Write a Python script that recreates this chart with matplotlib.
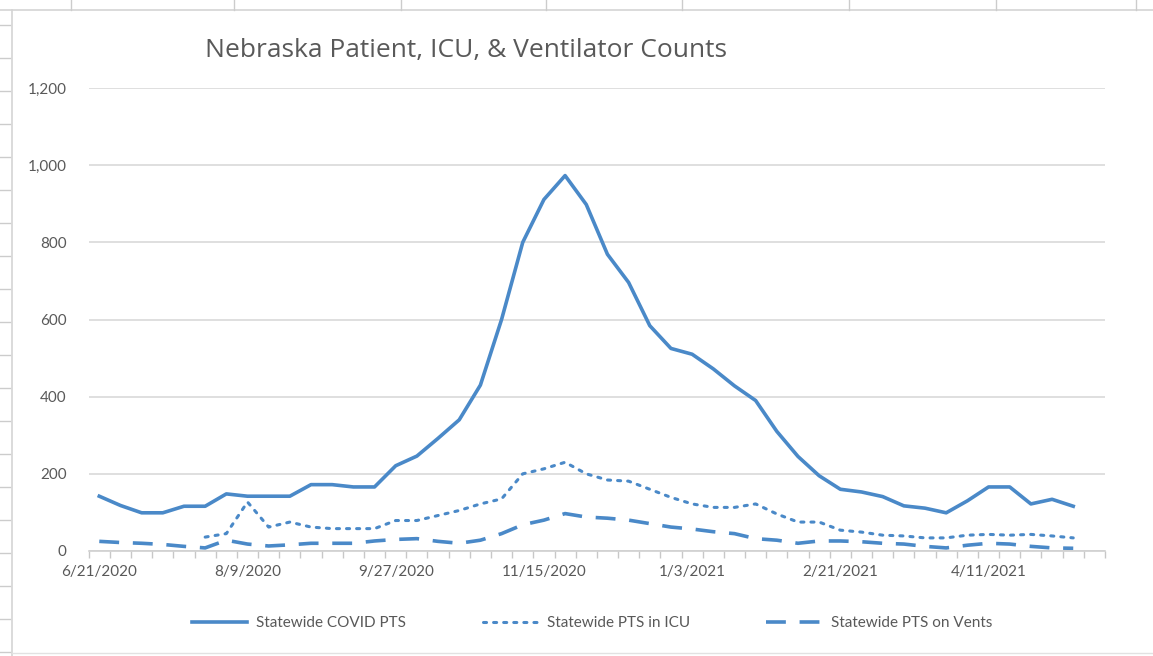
import numpy as np
import matplotlib
matplotlib.use("Agg")
import matplotlib.pyplot as plt
from matplotlib.ticker import FuncFormatter, FixedLocator

plt.rcParams['font.family'] = ['Lato', 'DejaVu Sans']

# weekly categories, 6/21/2020 .. 5/16/2021 (last one has no data)
n_weeks = 48
tick_labels = ["6/21/2020", "8/9/2020", "9/27/2020", "11/15/2020",
               "1/3/2021", "2/21/2021", "4/11/2021"]
tick_index = [0, 7, 14, 21, 28, 35, 42]

covid_pts = [142, 118, 99, 99, 116, 116, 148, 142, 142, 142,
             172, 172, 166, 166, 221, 246, 292, 340, 430, 600,
             800, 911, 973, 898, 769, 696, 584, 525, 510, 472,
             428, 390, 310, 245, 195, 160, 153, 141, 117, 111,
             99, 130, 166, 166, 122, 134, 116]
icu_pts = [np.nan, np.nan, np.nan, np.nan, np.nan, 36, 45, 127, 62, 75,
           62, 58, 58, 58, 79, 79, 92, 105, 122, 135,
           200, 213, 230, 200, 184, 181, 160, 139, 122, 113,
           113, 122, 96, 75, 75, 54, 49, 41, 39, 34,
           34, 41, 43, 41, 43, 39, 34]
vent_pts = [25, 22, 20, 17, 12, 8, 28, 18, 13, 16,
            20, 20, 20, 26, 30, 32, 25, 20, 28, 45,
            68, 80, 97, 88, 85, 80, 71, 62, 57, 50,
            45, 32, 28, 20, 26, 26, 24, 20, 18, 12,
            8, 15, 20, 18, 12, 8, 7]

blue = '#4a89c8'
gray = '#595959'

fig = plt.figure(figsize=(11.53, 6.56), dpi=100)

# faint spreadsheet frame behind the chart
fig.add_artist(plt.Line2D([0, 1], [1 - 10/656, 1 - 10/656], color='#d4d4d4', lw=1.2))
fig.add_artist(plt.Line2D([12/1153, 12/1153], [0, 1 - 10/656], color='#d4d4d4', lw=1.2))
fig.add_artist(plt.Line2D([12/1153, 1], [3/656, 3/656], color='#e2e2e2', lw=1))
for cx in [71, 234, 401, 546, 682, 849, 996, 1136]:
    fig.add_artist(plt.Line2D([cx/1153, cx/1153], [1 - 10/656, 1], color='#cccccc', lw=1))
for ry in np.arange(25, 656, 33):
    fig.add_artist(plt.Line2D([0, 10/1153], [1 - ry/656, 1 - ry/656], color='#cccccc', lw=1))

ax = fig.add_axes([88.7/1153, 1 - 551/656, (1105 - 88.7)/1153, (551 - 88)/656])

x = np.arange(len(covid_pts))
ax.plot(x, covid_pts, color=blue, lw=2.6, solid_joinstyle='round',
        label='Statewide COVID PTS')
ax.plot(x, icu_pts, color=blue, lw=2.2, linestyle=(0, (1, 2.3)),
        dash_capstyle='round', label='Statewide PTS in ICU')
ax.plot(x, vent_pts, color=blue, lw=2.6, linestyle=(0, (5.5, 3.8)),
        label='Statewide PTS on Vents')

ax.set_xlim(-0.5, n_weeks - 0.5)
ax.set_ylim(0, 1200)
ax.set_yticks(np.arange(0, 1201, 200))
ax.yaxis.set_major_formatter(FuncFormatter(lambda v, p: f"{int(v):,}"))
ax.grid(axis='y', color='#d9d9d9', lw=1.2)
ax.set_axisbelow(True)

ax.xaxis.set_major_locator(FixedLocator(tick_index))
ax.set_xticklabels(tick_labels)
ax.xaxis.set_minor_locator(FixedLocator(np.arange(-0.5, n_weeks, 1)))
ax.tick_params(axis='x', which='major', length=0, pad=10, labelsize=11, labelcolor=gray)
ax.tick_params(axis='x', which='minor', length=5, color='#c8c8c8', width=1)
ax.tick_params(axis='y', length=0, pad=16, labelsize=11, labelcolor=gray)

for s in ['top', 'right', 'left']:
    ax.spines[s].set_visible(False)
ax.spines['bottom'].set_color('#d0d0d0')
ax.spines['bottom'].set_linewidth(1.2)

fig.text(205/1153, 1 - 50/656, "Nebraska Patient, ICU, & Ventilator Counts",
         fontsize=19, color=gray, va='center', ha='left', family='Open Sans')

fig.legend(loc='center', bbox_to_anchor=(592/1153, 1 - 623/656), ncol=3,
           frameon=False, prop={'size': 11}, handlelength=3.6, handletextpad=0.6,
           columnspacing=5.0, labelcolor=gray)

fig.savefig("out.png", dpi=100)
